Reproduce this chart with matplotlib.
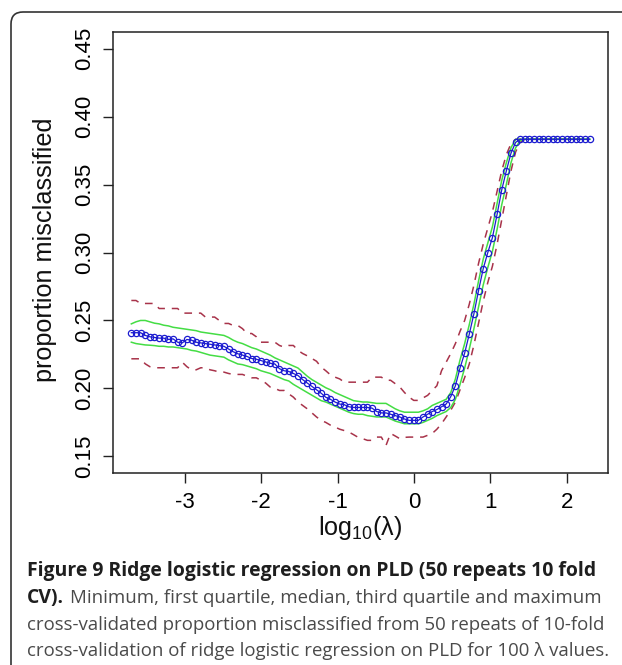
import numpy as np
import matplotlib
matplotlib.use("Agg")
import matplotlib.pyplot as plt
from matplotlib.patches import FancyBboxPatch
from matplotlib.transforms import IdentityTransform

plt.rcParams['font.family'] = ['Liberation Sans', 'DejaVu Sans']
plt.rcParams['axes.unicode_minus'] = False
plt.rcParams['mathtext.fontset'] = 'custom'
plt.rcParams['mathtext.rm'] = 'Liberation Sans'

# 100 lambda values, log10 scale
log_lambda = np.linspace(-3.7, 2.3, 100)

median = [
    0.241, 0.241, 0.241, 0.239, 0.238, 0.2375, 0.237, 0.237, 0.236, 0.2365,
    0.234, 0.2335, 0.236, 0.2355, 0.234, 0.2335, 0.233, 0.2325, 0.232, 0.2315,
    0.231, 0.229, 0.227, 0.2255, 0.2245, 0.2235, 0.222, 0.2215, 0.2205, 0.2195,
    0.2185, 0.218, 0.2145, 0.213, 0.2125, 0.211, 0.2095, 0.2065, 0.204, 0.2015,
    0.199, 0.1965, 0.1935, 0.192, 0.190, 0.1885, 0.188, 0.1865, 0.186, 0.186,
    0.186, 0.186, 0.1855, 0.183, 0.182, 0.182, 0.181, 0.180, 0.179, 0.1775,
    0.1765, 0.1765, 0.1765, 0.179, 0.181, 0.183, 0.1845, 0.1865, 0.1885, 0.194,
    0.202, 0.215, 0.226, 0.240, 0.255, 0.272, 0.288, 0.300, 0.311, 0.328,
    0.346, 0.360, 0.373, 0.381, 0.3833, 0.3833, 0.3833, 0.3833, 0.3833, 0.3833,
    0.3833, 0.3833, 0.3833, 0.3833, 0.3833, 0.3833, 0.3833, 0.3833, 0.3833, 0.3833,
]

q3 = [
    0.2475, 0.249, 0.250, 0.250, 0.249, 0.248, 0.2475, 0.2465, 0.246, 0.245,
    0.2445, 0.244, 0.2435, 0.243, 0.2425, 0.2415, 0.241, 0.2405, 0.240, 0.2395,
    0.239, 0.2375, 0.2355, 0.234, 0.233, 0.2315, 0.230, 0.229, 0.2275, 0.226,
    0.2245, 0.2225, 0.221, 0.2195, 0.218, 0.2165, 0.215, 0.212, 0.209, 0.2065,
    0.2045, 0.2025, 0.2005, 0.199, 0.197, 0.1955, 0.194, 0.1925, 0.191, 0.1905,
    0.190, 0.190, 0.1895, 0.189, 0.189, 0.189, 0.187, 0.185, 0.1835, 0.1825,
    0.1825, 0.1825, 0.1825, 0.1835, 0.185, 0.1875, 0.189, 0.1905, 0.192, 0.197,
    0.207, 0.221, 0.233, 0.247, 0.262, 0.279, 0.295, 0.307, 0.319, 0.336,
    0.353, 0.366, 0.377, 0.3833, 0.3833, 0.3833, 0.3833, 0.3833, 0.3833, 0.3833,
    0.3833, 0.3833, 0.3833, 0.3833, 0.3833, 0.3833, 0.3833, 0.3833, 0.3833, 0.3833,
]

q1 = [
    0.234, 0.233, 0.2325, 0.232, 0.2318, 0.2315, 0.231, 0.231, 0.2305, 0.2305,
    0.230, 0.2295, 0.229, 0.228, 0.2275, 0.2265, 0.2255, 0.2245, 0.224, 0.2235,
    0.223, 0.221, 0.2195, 0.218, 0.2175, 0.2165, 0.2155, 0.2145, 0.213, 0.212,
    0.211, 0.2095, 0.208, 0.2065, 0.2055, 0.203, 0.201, 0.199, 0.197, 0.195,
    0.193, 0.191, 0.190, 0.1885, 0.187, 0.1855, 0.184, 0.1825, 0.1815, 0.181,
    0.181, 0.180, 0.1795, 0.179, 0.179, 0.179, 0.1775, 0.176, 0.175, 0.174,
    0.174, 0.174, 0.174, 0.175, 0.1765, 0.178, 0.180, 0.1815, 0.183, 0.186,
    0.192, 0.203, 0.215, 0.229, 0.244, 0.260, 0.276, 0.289, 0.301, 0.317,
    0.335, 0.350, 0.366, 0.377, 0.3825, 0.3833, 0.3833, 0.3833, 0.3833, 0.3833,
    0.3833, 0.3833, 0.3833, 0.3833, 0.3833, 0.3833, 0.3833, 0.3833, 0.3833, 0.3833,
]

maximum = [
    0.2647, 0.2647, 0.2625, 0.2625, 0.2625, 0.2625, 0.2588, 0.2588, 0.2588, 0.2588,
    0.2588, 0.2554, 0.2554, 0.2554, 0.2554, 0.2554, 0.2525, 0.2525, 0.2525, 0.2500,
    0.2478, 0.2478, 0.2463, 0.2463, 0.2440, 0.2404, 0.2404, 0.2380, 0.2340, 0.2340,
    0.2340, 0.2340, 0.2316, 0.2304, 0.2316, 0.2316, 0.2280, 0.2257, 0.2240, 0.2220,
    0.2200, 0.2157, 0.2130, 0.2100, 0.2083, 0.2070, 0.2046, 0.2046, 0.2046, 0.2046,
    0.2046, 0.2046, 0.2083, 0.2083, 0.2083, 0.2060, 0.2060, 0.2035, 0.2010, 0.1970,
    0.1936, 0.1912, 0.1912, 0.1930, 0.1949, 0.1985, 0.2020, 0.2130, 0.2193, 0.2257,
    0.2330, 0.2420, 0.2500, 0.2620, 0.2760, 0.2920, 0.3060, 0.3180, 0.3300, 0.3450,
    0.3600, 0.3720, 0.3800, 0.3833, 0.3833, 0.3833, 0.3833, 0.3833, 0.3833, 0.3833,
    0.3833, 0.3833, 0.3833, 0.3833, 0.3833, 0.3833, 0.3833, 0.3833, 0.3833, 0.3833,
]

minimum = [
    0.2218, 0.2218, 0.2218, 0.2181, 0.2160, 0.2152, 0.2152, 0.2152, 0.2152, 0.2152,
    0.2152, 0.2193, 0.2160, 0.2137, 0.2137, 0.2152, 0.2152, 0.2137, 0.2130, 0.2120,
    0.2120, 0.2110, 0.2103, 0.2103, 0.2103, 0.2090, 0.2078, 0.2078, 0.2060, 0.2040,
    0.2010, 0.2000, 0.1985, 0.1985, 0.1960, 0.1936, 0.1900, 0.1875, 0.1850, 0.1820,
    0.1790, 0.1765, 0.1750, 0.1730, 0.1716, 0.1700, 0.1690, 0.1679, 0.1660, 0.1640,
    0.1630, 0.1618, 0.1618, 0.1642, 0.1642, 0.1580, 0.1669, 0.1650, 0.1630, 0.1640,
    0.1642, 0.1642, 0.1642, 0.1642, 0.1655, 0.1669, 0.1700, 0.1740, 0.1790, 0.1840,
    0.1900, 0.1990, 0.2080, 0.2180, 0.2320, 0.2480, 0.2640, 0.2780, 0.2900, 0.3060,
    0.3240, 0.3420, 0.3600, 0.3740, 0.3810, 0.3833, 0.3833, 0.3833, 0.3833, 0.3833,
    0.3833, 0.3833, 0.3833, 0.3833, 0.3833, 0.3833, 0.3833, 0.3833, 0.3833, 0.3833,
]

x_ticks = [-3, -2, -1, 0, 1, 2]
y_ticks = [0.15, 0.20, 0.25, 0.30, 0.35, 0.40, 0.45]

fig = plt.figure(figsize=(6.22, 6.65), dpi=100)
ax = fig.add_axes([113 / 622, 1 - 472.7 / 665, 495 / 622, 440.4 / 665])

red = '#a8334a'
green = '#44dd44'
blue = '#1c1cd0'

ax.plot(log_lambda, maximum, color=red, lw=1.1, dashes=(5, 4.5))
ax.plot(log_lambda, minimum, color=red, lw=1.1, dashes=(5, 4.5))
ax.plot(log_lambda, q3, color=green, lw=1.1)
ax.plot(log_lambda, q1, color=green, lw=1.1)
ax.plot(log_lambda, median, color=blue, lw=0.9, marker='o', ms=4.5,
        mfc='none', mec=blue, mew=0.9)

ax.set_xlim(-3.94, 2.54)
ax.set_ylim(0.138, 0.462)
ax.set_xticks(x_ticks)
ax.set_xticklabels([str(t) for t in x_ticks])
ax.set_yticks(y_ticks)
ax.set_yticklabels(['%.2f' % t for t in y_ticks])
ax.tick_params(axis='both', labelsize=16, length=7.2, width=1.0, color='#222222')
ax.tick_params(axis='x', pad=7)
ax.tick_params(axis='y', pad=5.5, labelrotation=90)
for lab in ax.get_yticklabels():
    lab.set_va('center')
for sp in ax.spines.values():
    sp.set_linewidth(1.1)
    sp.set_color('#222222')

fig.text(45 / 622, 1 - 250 / 665, 'proportion misclassified', rotation=90,
         ha='center', va='center', fontsize=18.2, color='#111111')
fig.text(360 / 622, 1 - 535 / 665, r'log$\mathregular{_{10}}$(λ)',
         ha='center', va='baseline', fontsize=18.2, color='#111111')

# outer rounded frame
frame = FancyBboxPatch((11, -30), 700, 653 + 30, boxstyle='round,pad=0,rounding_size=12',
                       transform=IdentityTransform(), fill=False, lw=1.2, ec='#333333')
fig.add_artist(frame)

# caption
cap_font = ['Open Sans', 'DejaVu Sans']
bold_col = '#1e1e1e'
reg_col = '#4a4a4a'
renderer = fig.canvas.get_renderer()


def fit(txt, target):
    w = txt.get_window_extent(renderer).width
    txt.set_fontsize(txt.get_fontsize() * target / w)


left = 27 / 622
t1 = fig.text(left, 1 - 576 / 665, 'Figure 9 Ridge logistic regression on PLD (50 repeats 10 fold',
              family=cap_font, weight='bold', fontsize=12, color=bold_col, va='baseline')
fit(t1, 567)
t4 = fig.text(left, 1 - 656 / 665, 'cross-validation of ridge logistic regression on PLD for 100 λ values.',
              family=cap_font, fontsize=12, color=reg_col, va='baseline')
fit(t4, 580)
reg_size = t4.get_fontsize()
t2b = fig.text(left, 1 - 603 / 665, 'CV).', family=cap_font, weight='bold',
               fontsize=t1.get_fontsize(), color=bold_col, va='baseline')
wb = t2b.get_window_extent(renderer).width
fig.text(left + (wb + 6) / 622, 1 - 603 / 665,
         'Minimum, first quartile, median, third quartile and maximum',
         family=cap_font, fontsize=reg_size, color=reg_col, va='baseline')
fig.text(left, 1 - 630 / 665, 'cross-validated proportion misclassified from 50 repeats of 10-fold',
         family=cap_font, fontsize=reg_size, color=reg_col, va='baseline')

fig.savefig('out.png', dpi=100)
